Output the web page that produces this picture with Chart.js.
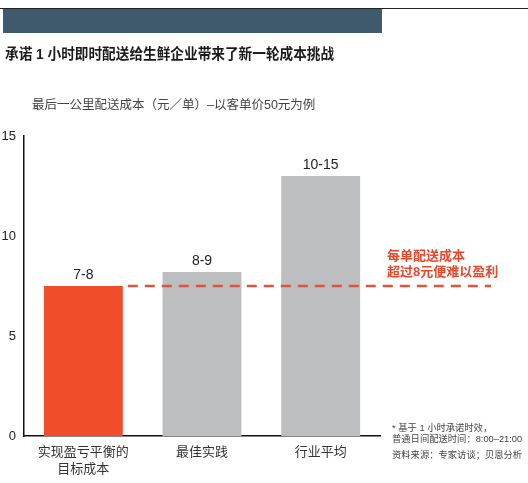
<!DOCTYPE html>
<html lang="zh">
<head>
<meta charset="UTF-8">
<title>最后一公里配送成本</title>
<script src="https://cdn.jsdelivr.net/npm/chart.js"></script>
<style>
    html, body { margin: 0; padding: 0; background: #fff; }
    body {
        width: 528px; height: 483px; position: relative; overflow: hidden;
        font-family: "Liberation Sans", "Noto Sans CJK SC", sans-serif;
    }
    #wrap { position: absolute; left: 0; top: 0; width: 528px; height: 483px; }
    .topline { position: absolute; left: 0; top: 8px; width: 528px; height: 1px; background: #222; }
    .band { position: absolute; left: 3px; top: 9px; width: 379px; height: 24px; background: #3e5a6c; }
    .title {
        position: absolute; left: 5px; top: 42px; font-size: 15px; font-weight: bold;
        color: #1a1a1a; white-space: nowrap; transform: scaleX(0.91); transform-origin: left top;
    }
    .subtitle {
        position: absolute; left: 32px; top: 94px; font-size: 12.5px; color: #444; white-space: nowrap;
    }
    .note {
        position: absolute; left: 387px; top: 248px; font-size: 13px; font-weight: bold;
        color: #e8482c; line-height: 16px; white-space: nowrap;
    }
    .foot {
        position: absolute; left: 392px; top: 423px; font-size: 9.3px; color: #444;
        line-height: 11px; white-space: nowrap;
    }
    .foot .src { margin-top: 5px; }
</style>
</head>
<body>
<div id="wrap"><canvas id="chart" width="528" height="483"></canvas></div>
<div class="topline"></div>
<div class="band"></div>
<div class="title">承诺 1 小时即时配送给生鲜企业带来了新一轮成本挑战</div>
<div class="subtitle">最后一公里配送成本（元／单）–以客单价50元为例</div>
<div class="note">每单配送成本<br>超过8元便难以盈利</div>
<div class="foot">* 基于 1 小时承诺时效，<br>普通日间配送时间：8:00–21:00<div class="src">资料来源：专家访谈；贝恩分析</div></div>

<script>
    // 数据
    const categories = [['实现盈亏平衡的', '目标成本'], '最佳实践', '行业平均'];
    const costValues = [7.5, 8.2, 13];
    const rangeLabels = ['7-8', '8-9', '10-15'];
    const barColors = ['#f04e2b', '#bdbec0', '#bdbec0'];
    const yTicks = [0, 5, 10, 15];
    const breakEven = 7.5;

    Chart.defaults.font.family = '"Liberation Sans", "Noto Sans CJK SC", sans-serif';

    // 柱顶数值标签
    const rangeLabelPlugin = {
        id: 'rangeLabels',
        afterDatasetsDraw(chart) {
            const ctx = chart.ctx;
            const meta = chart.getDatasetMeta(0);
            ctx.save();
            ctx.font = '14px "Liberation Sans", "Noto Sans CJK SC", sans-serif';
            ctx.fillStyle = '#222';
            ctx.textAlign = 'center';
            ctx.textBaseline = 'middle';
            meta.data.forEach((bar, i) => {
                ctx.fillText(rangeLabels[i], bar.x, bar.y - 11);
            });
            ctx.restore();
        }
    };

    // 8元盈利线（虚线）
    const breakEvenPlugin = {
        id: 'breakEven',
        afterDatasetsDraw(chart) {
            const ctx = chart.ctx;
            const y = chart.scales.y.getPixelForValue(breakEven);
            const first = chart.getDatasetMeta(0).data[0];
            const x0 = first.x + first.width / 2 + 5;
            const x1 = chart.chartArea.right + 111;
            ctx.save();
            ctx.strokeStyle = '#e0553a';
            ctx.lineWidth = 2.5;
            ctx.setLineDash([10, 7]);
            ctx.beginPath();
            ctx.moveTo(x0, y);
            ctx.lineTo(x1, y);
            ctx.stroke();
            ctx.restore();
        }
    };

    new Chart(document.getElementById('chart'), {
        type: 'bar',
        data: {
            labels: categories,
            datasets: [{
                data: costValues,
                backgroundColor: barColors,
                borderWidth: 0,
                barPercentage: 0.665,
                categoryPercentage: 1
            }]
        },
        options: {
            responsive: false,
            animation: false,
            layout: { padding: { top: 136, right: 148, left: 0, bottom: 0 } },
            plugins: { legend: { display: false }, tooltip: { enabled: false } },
            scales: {
                x: {
                    grid: { display: false, drawTicks: false },
                    border: { display: true, color: '#111', width: 1.5 },
                    ticks: {
                        color: '#333', padding: 8,
                        font: { size: 13, lineHeight: 1.3 },
                        maxRotation: 0, autoSkip: false
                    },
                    afterFit(scale) { scale.height = 47; }
                },
                y: {
                    min: 0, max: 15,
                    grid: { display: false, drawTicks: false },
                    border: { display: true, color: '#111', width: 1.5 },
                    afterBuildTicks(scale) { scale.ticks = yTicks.map(v => ({ value: v })); },
                    ticks: { color: '#222', padding: 8, font: { size: 13 } },
                    afterFit(scale) { scale.width = 24; }
                }
            }
        },
        plugins: [rangeLabelPlugin, breakEvenPlugin]
    });
</script>
</body>
</html>
